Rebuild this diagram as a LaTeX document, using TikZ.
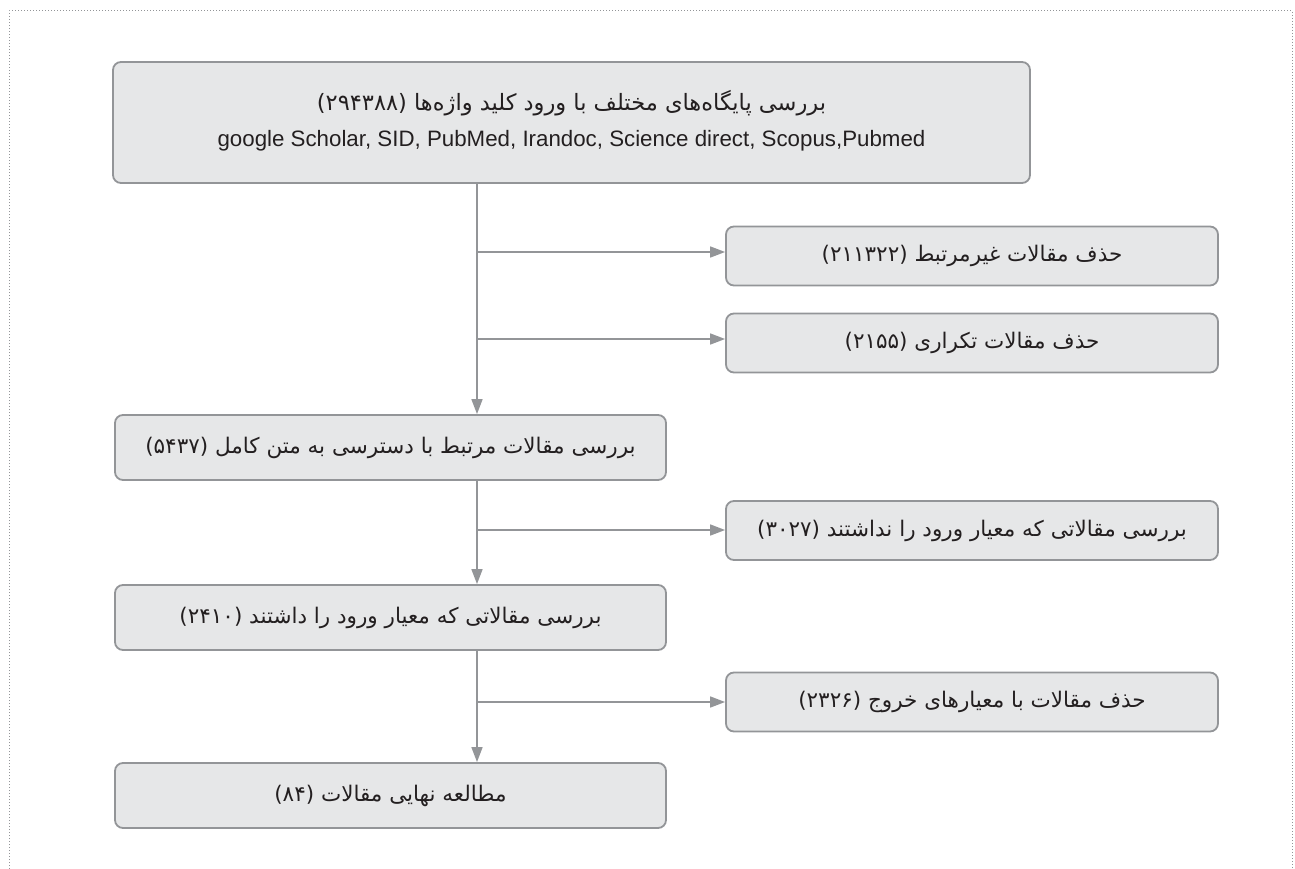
\documentclass[tikz,border=0pt]{standalone}
\usepackage{fontspec}
\setmainfont{Liberation Sans}
\newfontfamily\fa[Script=Arabic]{DejaVu Sans}
\TeXXeTstate=1
\usetikzlibrary{arrows.meta}
\definecolor{boxfill}{HTML}{E6E7E8}
\definecolor{boxline}{HTML}{939598}
\definecolor{ink}{HTML}{231F20}
\begin{document}
\begin{tikzpicture}[x=1pt,y=-1pt,
  box/.style={draw=boxline, line width=1.8pt, fill=boxfill, rounded corners=8pt, inner sep=0pt, align=center, text=ink},
  wbox/.style={box, minimum width=551pt, minimum height=65pt},
  rbox/.style={box, minimum width=492pt, minimum height=59pt},
  fatext/.style={font=\fa\fontsize{21.5}{24}\selectfont, text=ink},
  conn/.style={draw=boxline, line width=1.6pt},
  arr/.style={conn, -{Triangle[length=15pt,width=11pt]}}]
\useasboundingbox (0,0) rectangle (1295,869);
\draw[boxline, line width=1pt, dash pattern=on 1pt off 2pt] (9,869) -- (9,11) -- (1292,11) -- (1292,869);
\node[box, minimum width=917pt, minimum height=121pt] (T) at (571.5,122.5) {};
\node[fatext, font=\fa\fontsize{22.5}{25}\selectfont] (T1) at (571.5,103) {\beginR بررسی پایگاه‌های مختلف با ورود کلید واژه‌ها (۲۹۴۳۸۸)\endR};
\node[font=\fontsize{22.3}{25}\selectfont, text=ink] (T2) at (571.5,141) {google Scholar, SID, PubMed, Irandoc, Science direct, Scopus,Pubmed};
\node[rbox, fatext] (A) at (972,256) {\beginR حذف مقالات غیرمرتبط (۲۱۱۳۲۲)\endR};
\node[rbox, fatext] (B) at (972,343) {\beginR حذف مقالات تکراری (۲۱۵۵)\endR};
\node[wbox, fatext] (C) at (390.5,447.5) {\beginR بررسی مقالات مرتبط با دسترسی به متن کامل (۵۴۳۷)\endR};
\node[rbox, fatext] (D) at (972,530.5) {\beginR بررسی مقالاتی که معیار ورود را نداشتند (۳۰۲۷)\endR};
\node[wbox, fatext] (E) at (390.5,617.5) {\beginR بررسی مقالاتی که معیار ورود را داشتند (۲۴۱۰)\endR};
\node[rbox, fatext] (F) at (972,702) {\beginR حذف مقالات با معیارهای خروج (۲۳۲۶)\endR};
\node[wbox, fatext] (G) at (390.5,795.5) {\beginR مطالعه نهایی مقالات (۸۴)\endR};
\coordinate (vx) at (477,0);
\coordinate (jA) at (477,252);
\coordinate (jB) at (477,339);
\coordinate (jD) at (477,530);
\coordinate (jF) at (477,702);
\draw[arr] (T.south -| vx) -- (C.north -| vx);
\draw[arr] (C.south -| vx) -- (E.north -| vx);
\draw[arr] (E.south -| vx) -- (G.north -| vx);
\draw[arr] (jA) -- (jA -| A.west);
\draw[arr] (jB) -- (jB -| B.west);
\draw[arr] (jD) -- (jD -| D.west);
\draw[arr] (jF) -- (jF -| F.west);
\end{tikzpicture}
\end{document}
